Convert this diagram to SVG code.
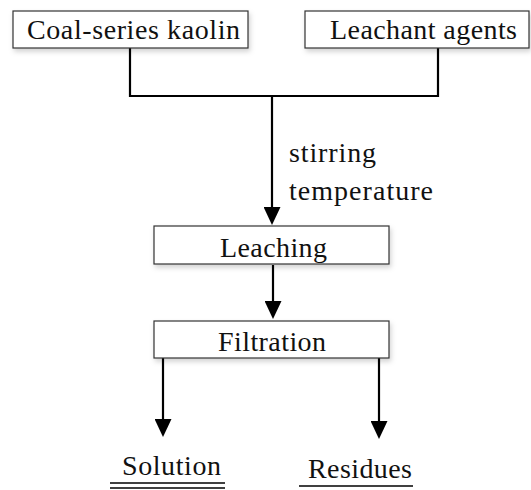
<svg xmlns="http://www.w3.org/2000/svg" width="531" height="490" viewBox="0 0 531 490">
<style>
.box{fill:#fff;stroke:#333;stroke-width:1.2;filter:url(#sh)}
.t{font-family:"Liberation Serif","Times New Roman",serif;font-size:28px;fill:#111}
.c{fill:none;stroke:#000;stroke-width:2.2}
.a{marker-end:url(#ah)}
.u{stroke:#000;stroke-width:1.6}
</style>
<defs>
<filter id="sh" x="-10%" y="-20%" width="125%" height="160%">
<feDropShadow dx="1.5" dy="3" stdDeviation="2.5" flood-color="#000" flood-opacity="0.18"/>
</filter>
<marker id="ah" markerUnits="userSpaceOnUse" markerWidth="19" markerHeight="17" refX="9" refY="8.5" orient="auto">
<path d="M0,0 L18,8.5 L0,17 z" fill="#000"/>
</marker>
</defs>
<g id="connectors">
<polyline class="c" points="130,48 130,96 438,96 438,48"/>
<line class="c a" x1="272" y1="96" x2="272" y2="216"/>
<line class="c a" x1="273" y1="265" x2="273" y2="310"/>
<line class="c a" x1="163" y1="358" x2="163" y2="428"/>
<line class="c a" x1="379" y1="358" x2="379" y2="430"/>
</g>
<g id="kaolin">
<rect class="box" x="13" y="11" width="235" height="37"/>
<text class="t" x="27" y="39" textLength="213">Coal-series kaolin</text>
</g>
<g id="leachant">
<rect class="box" x="305" y="11" width="224" height="37"/>
<text class="t" x="330" y="39" textLength="187">Leachant agents</text>
</g>
<g id="conditions">
<text class="t" x="289" y="162" textLength="87">stirring</text>
<text class="t" x="289" y="200" textLength="144">temperature</text>
</g>
<g id="leaching">
<rect class="box" x="154" y="226" width="235" height="38"/>
<text class="t" x="220" y="257" textLength="107">Leaching</text>
</g>
<g id="filtration">
<rect class="box" x="154" y="321" width="235" height="37"/>
<text class="t" x="218" y="351" textLength="108">Filtration</text>
</g>
<g id="solution">
<text class="t" x="122" y="475" textLength="99">Solution</text>
<line class="u" x1="110" y1="483" x2="225" y2="483"/>
<line class="u" x1="110" y1="488" x2="225" y2="488"/>
</g>
<g id="residues">
<text class="t" x="308" y="478" textLength="104">Residues</text>
<line class="u" x1="299" y1="486" x2="413" y2="486"/>
</g>
</svg>
